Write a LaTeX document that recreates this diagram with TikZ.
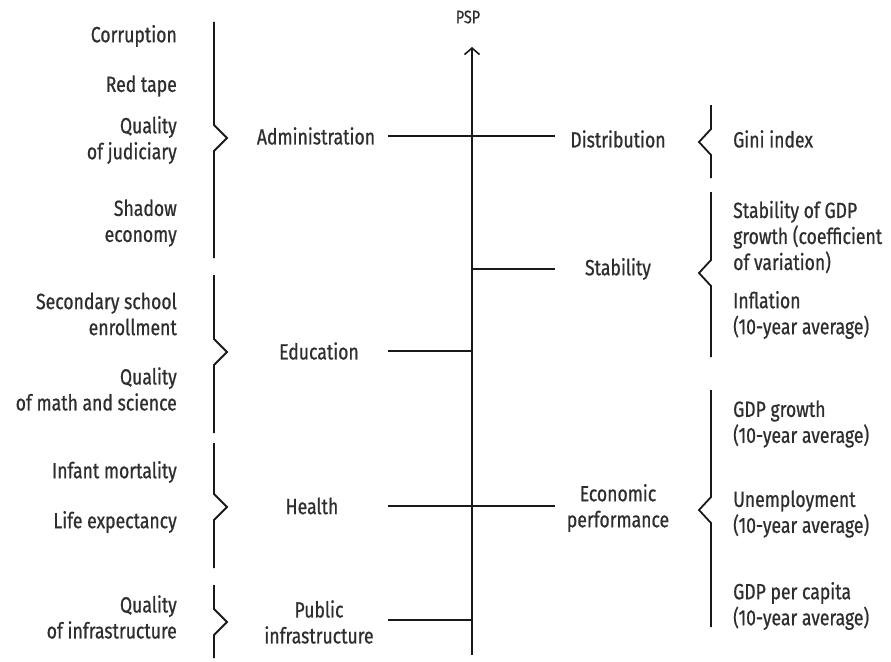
\documentclass[tikz,border=0pt]{standalone}
\usepackage{fontspec}
\setmainfont{Fira Sans}[FakeStretch=0.8, FakeBold=0.7]
\usetikzlibrary{arrows.meta}
\definecolor{ink}{HTML}{2E2E2E}
\begin{document}
\begin{tikzpicture}[x=1pt,y=-1pt,
  txt/.style={font=\fontsize{22}{26}\selectfont, text=ink, inner sep=0pt, align=center},
  leftitem/.style={txt, anchor=east, align=right},
  rightitem/.style={txt, anchor=west, align=left},
  rule/.style={line width=1.8pt, draw=black!90},
]
\useasboundingbox (0,0) rectangle (891,661);

% brace with a kink pointing towards the grouped label
\newcommand{\kinkbrace}[5]{% x, top, tip y, bottom, tip x
  \draw[rule, line join=miter] (#1,#2) -- (#1,#3-13) -- (#5,#3) -- (#1,#3+13) -- (#1,#4);}

% main axis
\coordinate (axisbottom) at (472,655);
\coordinate (axistop) at (472,47);
\node[txt, font=\fontsize{18}{20}\selectfont] (psp) at (468,17) {PSP};
\draw[rule, -{Straight Barb[length=6.5pt,width=15pt,line width=1.6pt]}] (axisbottom) -- (axistop);

% left-hand indicators
\node[leftitem] (corr)  at (177,36)  {Corruption};
\node[leftitem] (red)   at (177,86)  {Red tape};
\node[leftitem] (judic) at (177,140) {Quality\\of judiciary};
\node[leftitem] (shad)  at (177,223) {Shadow\\economy};
\node[leftitem] (secs)  at (177,314) {Secondary school\\enrollment};
\node[leftitem] (math)  at (177,389) {Quality\\of math and science};
\node[leftitem] (inf)   at (177,472) {Infant mortality};
\node[leftitem] (life)  at (177,522) {Life expectancy};
\node[leftitem] (infq)  at (177,617) {Quality\\of infrastructure};

\kinkbrace{214}{22}{138}{258}{227}
\kinkbrace{214}{275}{352}{433}{227}
\kinkbrace{214}{443}{507}{568}{227}
\kinkbrace{214}{585}{622}{658}{227}

% left-hand groups
\node[txt] (adm)  at (316,136) {Administration};
\node[txt] (edu)  at (319,351) {Education};
\node[txt] (hea)  at (312,506) {Health};
\node[txt] (pub)  at (319,622) {Public\\infrastructure};

% right-hand groups
\node[txt] (dist) at (618,139) {Distribution};
\node[txt] (stab) at (618,269) {Stability};
\node[txt] (econ) at (618,508) {Economic\\performance};

% right-hand indicators
\node[rightitem] (gini)  at (733,139) {Gini index};
\node[rightitem] (sgdp)  at (733,237) {Stability of GDP\\growth (coefficient\\of variation)};
\node[rightitem] (infl)  at (733,315) {Inflation\\(10-year average)};
\node[rightitem] (grow)  at (733,424) {GDP growth\\(10-year average)};
\node[rightitem] (unem)  at (733,514) {Unemployment\\(10-year average)};
\node[rightitem] (gdppc) at (733,606) {GDP per capita\\(10-year average)};

\kinkbrace{711}{105}{142}{178}{699}
\kinkbrace{711}{192}{273}{357}{699}
\kinkbrace{711}{390}{510}{627}{699}

% connector ends
\coordinate (admL) at (388,136);  \coordinate (distR) at (555,136);
\coordinate (stabA) at (472,269); \coordinate (stabR) at (555,269);
\coordinate (eduL) at (388,351);  \coordinate (eduA) at (472,351);
\coordinate (heaL) at (388,506);  \coordinate (econR) at (555,506);
\coordinate (pubL) at (388,620);  \coordinate (pubA) at (472,620);

\draw[rule] (admL) -- (distR);
\draw[rule] (stabA) -- (stabR);
\draw[rule] (eduL) -- (eduA);
\draw[rule] (heaL) -- (econR);
\draw[rule] (pubL) -- (pubA);
\end{tikzpicture}
\end{document}
